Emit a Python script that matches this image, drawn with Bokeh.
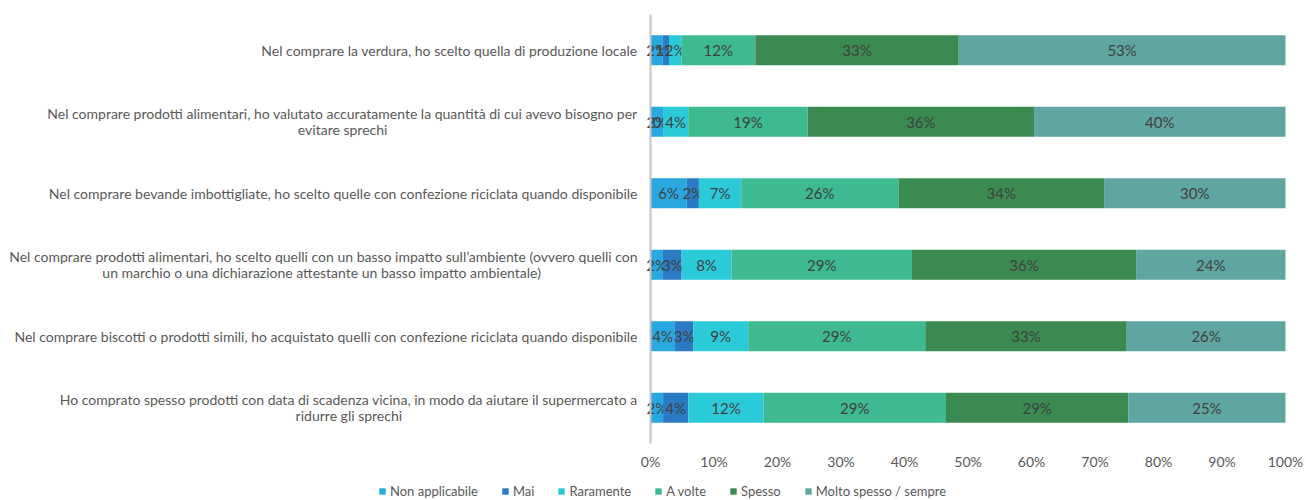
import glob
import subprocess

from bokeh.plotting import figure
from bokeh.models import ColumnDataSource, Legend, LegendItem
from bokeh.core.properties import value
from bokeh.embed import file_html
from bokeh.resources import INLINE

# Survey statements (top to bottom); long ones are split into two lines
statements = [
    ["Nel comprare la verdura, ho scelto quella di produzione locale"],
    ["Nel comprare prodotti alimentari, ho valutato accuratamente la quantità di cui avevo bisogno per",
     "evitare sprechi"],
    ["Nel comprare bevande imbottigliate, ho scelto quelle con confezione riciclata quando disponibile"],
    ["Nel comprare prodotti alimentari, ho scelto quelli con un basso impatto sull’ambiente (ovvero quelli con",
     "un marchio o una dichiarazione  attestante un basso impatto ambientale)"],
    ["Nel comprare biscotti o prodotti simili, ho acquistato quelli con confezione riciclata quando disponibile"],
    ["Ho comprato spesso prodotti con data di scadenza vicina, in modo da aiutare il supermercato a",
     "ridurre gli sprechi"],
]
answers = ["Non applicabile", "Mai", "Raramente", "A volte", "Spesso", "Molto spesso / sempre"]

# Answer shares in percent, one value per statement
non_applicabile = [2, 2, 6, 2, 4, 2]
mai = [1, 0, 2, 3, 3, 4]
raramente = [2, 4, 7, 8, 9, 12]
a_volte = [12, 19, 26, 29, 29, 29]
spesso = [33, 36, 34, 36, 33, 29]
molto_spesso = [53, 40, 30, 24, 26, 25]

x_ticks = list(range(0, 101, 10))
x_tick_labels = [f"{t}%" for t in x_ticks]

colors = ["#29a8e0", "#2b7bc4", "#2bcad8", "#3dba92", "#3a8a52", "#5fa6a0"]
series = [non_applicabile, mai, raramente, a_volte, spesso, molto_spesso]

FONT = "Lato"
TEXT = "#595959"
LABEL_SIZE = 14

# Canvas geometry (pixels): the bar area and the margins around it
W, H = 1306, 500
PLOT_LEFT, PLOT_RIGHT, PLOT_TOP, PLOT_BOTTOM = 650, 1285, 14, 443


def text_width(txt, size):
    """Pixel width of a string in the label font (used to centre second lines)."""
    try:
        from PIL import ImageFont
        path = subprocess.run(["fc-match", "-f", "%{file}", f"{FONT}:style=Regular"],
                              capture_output=True, text=True).stdout.strip()
        if not path:
            path = (glob.glob("/usr/share/fonts/**/Lato-Regular.ttf", recursive=True) or [""])[0]
        return ImageFont.truetype(path, size).getlength(txt)
    except Exception:
        return 0.5 * size * len(txt)


n = len(statements)
rows = [n - 0.5 - i for i in range(n)]  # top row first

# The frame fills the whole canvas; labels and ticks are drawn as text glyphs
px_x = (PLOT_RIGHT - PLOT_LEFT) / 100.0        # pixels per percent
px_y = (PLOT_BOTTOM - PLOT_TOP) / n            # pixels per row
x_range = (-PLOT_LEFT / px_x, (W - PLOT_LEFT) / px_x)
y_range = (-(H - PLOT_BOTTOM) / px_y, n + PLOT_TOP / px_y)

p = figure(
    width=W, height=H, x_range=x_range, y_range=y_range,
    output_backend="svg", toolbar_location=None,
    min_border=0, outline_line_color=None,
)
p.axis.visible = False
p.grid.grid_line_color = None

# 100% stacked: each row is normalised by its total
totals = [sum(s[i] for s in series) for i in range(n)]
left = [0.0] * n
items = []
for name, vals, col in zip(answers, series, colors):
    widths = [v * 100.0 / t for v, t in zip(vals, totals)]
    right = [l + w for l, w in zip(left, widths)]
    src = ColumnDataSource(dict(
        y=rows, left=left, right=right,
        mid=[(l + r) / 2 for l, r in zip(left, right)],
        label=[f"{v}%" for v in vals],
    ))
    r = p.hbar(y="y", left="left", right="right", height=0.42, source=src,
               fill_color=col, line_color=None)
    p.text(x="mid", y="y", text="label", source=src, text_align="center",
           text_baseline="middle", text_font=value(FONT), text_font_size="15px",
           text_color="#404040")
    items.append(LegendItem(label=name, renderers=[r]))
    left = right

# Vertical axis line at 0%
p.segment(x0=[0], y0=[0], x1=[0], y1=[n], line_color="#c4c4c4", line_width=2)

# Percent tick labels under the bars
p.text(x=x_ticks, y=[-18 / px_y] * len(x_ticks), text=x_tick_labels,
       text_align="center", text_baseline="middle", text_font=value(FONT),
       text_font_size="14px", text_color=TEXT)

# Statement labels to the left of the bars
gap = 13 / px_x
lab_x, lab_y, lab_t, lab_align = [], [], [], []
for y, lines in zip(rows, statements):
    if len(lines) == 1:
        lab_x.append(-gap); lab_y.append(y); lab_t.append(lines[0]); lab_align.append("right")
    else:
        w = text_width(lines[0], LABEL_SIZE) / px_x
        dy = 8 / px_y
        lab_x += [-gap, -gap - w / 2]
        lab_y += [y + dy, y - dy]
        lab_t += lines
        lab_align += ["right", "center"]
p.text(x=lab_x, y=lab_y, text=lab_t, text_align=lab_align, text_baseline="middle",
       text_font=value(FONT), text_font_size=f"{LABEL_SIZE}px", text_color=TEXT)

legend = Legend(items=items, orientation="horizontal", location=(378, 1),
                label_text_font=FONT, label_text_font_size="13px",
                label_text_color=TEXT, glyph_width=8, glyph_height=8,
                spacing=23, padding=0, margin=0, border_line_color=None,
                label_standoff=4, background_fill_alpha=0)
p.add_layout(legend)

open("out.html", "w").write(file_html(p, INLINE))
